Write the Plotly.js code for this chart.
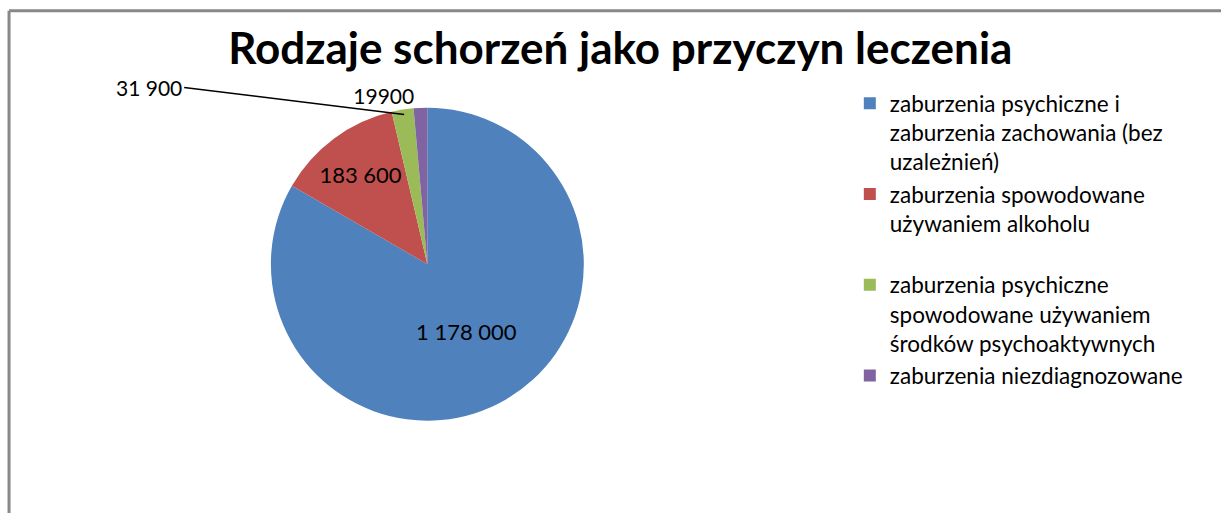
<!DOCTYPE html>
<html>
<head>
<meta charset="utf-8">
<script src="https://cdn.plot.ly/plotly-3.0.1.min.js"></script>
<style>html,body{margin:0;padding:0;background:#fff;}#chart{width:1221px;height:513px;}</style>
</head>
<body>
<div id="chart"></div>
<script>
const categories = [
  'zaburzenia psychiczne i<br>zaburzenia zachowania (bez<br>uzależnień)',
  'zaburzenia spowodowane<br>używaniem alkoholu',
  'zaburzenia psychiczne<br>spowodowane używaniem<br>środków psychoaktywnych',
  'zaburzenia niezdiagnozowane'
];
const values = [1178000, 183600, 31900, 19900];
const valueLabels = ['1 178 000', '183 600', '31 900', '19900'];
const colors = ['#4F81BD', '#C0504D', '#9BBB59', '#8064A2'];

// the original legend leaves an empty line after the second entry
const legendLabels = categories.map((c, i) => i === 1 ? c + '<br> ' : c);

const trace = {
  type: 'pie',
  labels: legendLabels,
  values: values,
  text: valueLabels,
  textinfo: 'text',
  textposition: ['inside', 'inside', 'none', 'outside'],
  insidetextorientation: 'horizontal',
  textfont: {family: 'Lato, sans-serif', size: 22, color: '#000'},
  insidetextfont: {family: 'Lato, sans-serif', size: 22, color: '#000'},
  outsidetextfont: {family: 'Lato, sans-serif', size: 21, color: '#000'},
  marker: {colors: colors, line: {width: 0}},
  sort: false,
  direction: 'clockwise',
  rotation: 0,
  hoverinfo: 'label+value',
  domain: {x: [0.2, 0.5], y: [0.18, 0.79]}
};

const layout = {
  width: 1221, height: 513,
  margin: {l: 0, r: 0, t: 0, b: 0},
  paper_bgcolor: '#fff',
  title: {
    text: '<b>Rodzaje schorzeń jako przyczyn leczenia</b>',
    font: {family: 'Lato, sans-serif', size: 44, color: '#000'},
    x: 0.508, xanchor: 'center', y: 0.905, yanchor: 'middle'
  },
  showlegend: true,
  legend: {
    x: 0.696, y: 0.84, xanchor: 'left', yanchor: 'top',
    valign: 'top',
    font: {family: 'Lato, sans-serif', size: 22.5, color: '#000'},
    itemwidth: 30,
    bgcolor: 'rgba(0,0,0,0)'
  },
  annotations: [{
    text: valueLabels[2],
    xref: 'paper', yref: 'paper',
    x: 0.331, y: 0.777,
    ax: -220, ay: -27,
    showarrow: true, arrowhead: 0, arrowwidth: 1.5, arrowcolor: '#000',
    xanchor: 'right',
    font: {family: 'Lato, sans-serif', size: 21, color: '#000'}
  }],
  shapes: [
    {type: 'line', xref: 'paper', yref: 'paper', x0: 0.0074, x1: 0.0074, y0: 0, y1: 0.979, line: {color: '#888', width: 3}},
    {type: 'line', xref: 'paper', yref: 'paper', x0: 0.0074, x1: 1, y0: 0.979, y1: 0.979, line: {color: '#888', width: 3}}
  ]
};

Plotly.newPlot('chart', [trace], layout, {displayModeBar: false, staticPlot: true});
</script>
</body>
</html>
